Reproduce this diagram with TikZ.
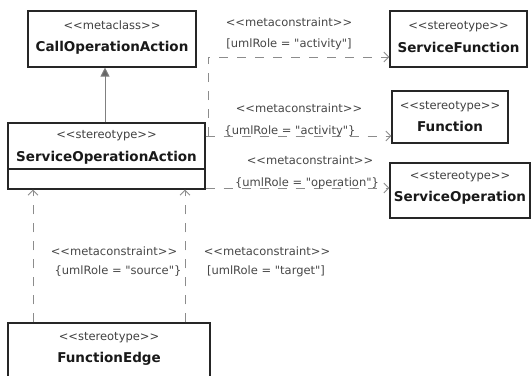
\documentclass[tikz,border=0pt]{standalone}
\usepackage{fontspec}
\setmainfont{DejaVu Sans}[Ligatures=TeXOff]
\usetikzlibrary{arrows.meta}
\newcommand\stereo[1]{<{}<#1>{}>}
\begin{document}
\begin{tikzpicture}[x=1bp,y=-1bp,
  box/.style={draw=black!85,line width=1.1bp,inner sep=0,fill=white},
  st/.style={font=\fontsize{11.5bp}{13bp}\selectfont,text=black!75,inner sep=0,anchor=base},
  nm/.style={font=\fontsize{13.5bp}{15bp}\selectfont\bfseries,text=black!90,inner sep=0,anchor=base},
  lbl/.style={font=\fontsize{11.5bp}{13bp}\selectfont,text=black!72,inner sep=0,anchor=base},
  dep/.style={draw=black!45,line width=0.9bp,dash pattern=on 9bp off 9bp,-{Straight Barb[length=5bp,width=10bp]}},
  depl/.style={draw=black!45,line width=0.9bp,dash pattern=on 9bp off 9bp},
  gen/.style={draw=black!50,line width=1bp,-{Triangle[length=9bp,width=9bp,fill=black!60]}}
]
\useasboundingbox (0,0) rectangle (531,375);
\clip (0,0) rectangle (531,375);
\fill[white] (0,0) rectangle (531,375);

% boxes
\node[box,minimum width=168bp,minimum height=56bp] (coa) at (112,39) {};
\node[box,minimum width=197bp,minimum height=66bp] (soa) at (106.5,156) {};
\node[box,minimum width=137bp,minimum height=56bp] (sf) at (458.5,39) {};
\node[box,minimum width=116bp,minimum height=52bp] (fn) at (450,117) {};
\node[box,minimum width=140bp,minimum height=55bp] (so) at (460,190.5) {};
\node[box,minimum width=202bp,minimum height=60bp] (fe) at (109,353) {};

\coordinate (dv) at (0,169);
\draw[draw=black!85,line width=1.1bp] (soa.west |- dv) -- (soa.east |- dv);

% box texts
\node[st] (coa-s) at (112,29.5) {\stereo{metaclass}};
\node[nm] (coa-n) at (112,51) {CallOperationAction};
\node[st] (soa-s) at (106.5,138.5) {\stereo{stereotype}};
\node[nm] (soa-n) at (106.5,161) {ServiceOperationAction};
\node[st] (sf-s) at (458.5,29) {\stereo{stereotype}};
\node[nm] (sf-n) at (458.5,52) {ServiceFunction};
\node[st] (fn-s) at (450,109.5) {\stereo{stereotype}};
\node[nm] (fn-n) at (450,131) {Function};
\node[st] (so-s) at (460,179) {\stereo{stereotype}};
\node[nm] (so-n) at (460,201) {ServiceOperation};
\node[st] (fe-s) at (109,340) {\stereo{stereotype}};
\node[nm] (fe-n) at (109,362) {FunctionEdge};

% generalization
\coordinate (g) at (105,0);
\draw[gen] (soa.north -| g) -- (coa.south -| g);

% dependencies
\coordinate (j0) at (208,136);
\coordinate (j1) at (208,57);
\coordinate (c3) at (0,188);
\coordinate (c4) at (33,0);
\coordinate (c5) at (185,0);
\draw[depl] (soa.east |- j0) -- (j0);
\draw[dep] (j0) -- (j1) -- (sf.west |- j1);
\draw[dep] (soa.east |- j0) -- (fn.west |- j0);
\draw[dep] (soa.east |- c3) -- (so.west |- c3);
\draw[dep] (fe.north -| c4) -- (soa.south -| c4);
\draw[dep] (fe.north -| c5) -- (soa.south -| c5);

% labels
\node[lbl] (l1a) at (289,26) {\stereo{metaconstraint}};
\node[lbl] (l1b) at (289,47) {[umlRole = "activity"]};
\node[lbl] (l2a) at (299,112) {\stereo{metaconstraint}};
\node[lbl] (l2b) at (290,134) {\{umlRole = "activity"\}};
\node[lbl] (l3a) at (310,164) {\stereo{metaconstraint}};
\node[lbl] (l3b) at (307,186) {\{umlRole = "operation"\}};
\node[lbl] (l4a) at (114,255.5) {\stereo{metaconstraint}};
\node[lbl] (l4b) at (118,274) {\{umlRole = "source"\}};
\node[lbl] (l5a) at (267,255.5) {\stereo{metaconstraint}};
\node[lbl] (l5b) at (266,274) {[umlRole = "target"]};
\end{tikzpicture}
\end{document}
